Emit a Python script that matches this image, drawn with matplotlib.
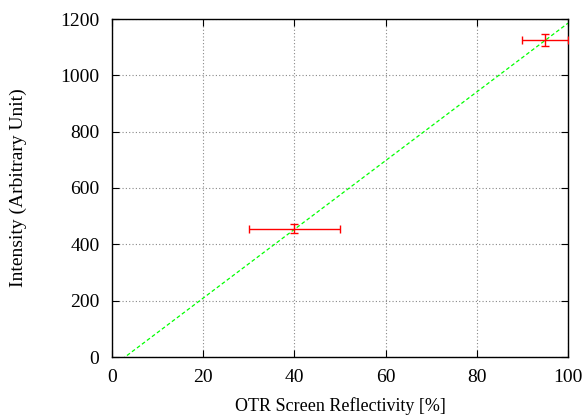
import matplotlib
matplotlib.use("Agg")
import matplotlib.pyplot as plt
import numpy as np

plt.rcParams['font.family'] = ['Liberation Serif', 'DejaVu Serif']

reflectivity = [40, 95]
intensity = [456, 1126]
refl_err = [10, 5]
int_err = [15, 21]
fit_slope = 12.2
fit_intercept = -34.8

fig = plt.figure(figsize=(5.88, 4.16), dpi=100)
ax = fig.add_axes([112/588, 1-357/416, (568-112)/588, (357-19)/416])

xf = np.linspace(0, 100, 200)
ax.plot(xf, fit_slope*xf + fit_intercept, color='#00ff00', lw=0.9, ls=(0, (3, 2)), zorder=2)

# x error bars (right-side clipped at 100)
xerr_lo = refl_err
xerr_hi = [min(e, 100 - x) for x, e in zip(reflectivity, refl_err)]
ax.errorbar(reflectivity, intensity, xerr=[xerr_lo, xerr_hi], yerr=int_err,
            fmt='none', ecolor='red', elinewidth=1.0, capsize=3, capthick=1.0, zorder=3)

ax.set_xlim(0, 100)
ax.set_ylim(0, 1200)
ax.set_xticks(np.arange(0, 101, 20))
ax.set_yticks(np.arange(0, 1201, 200))
ax.grid(True, color='#888888', ls=(0, (1, 2)), lw=0.8)
ax.tick_params(direction='in', top=True, right=True, length=5, width=0.8,
               labelsize=14, pad=9)
for s in ax.spines.values():
    s.set_linewidth(1.0)
ax.set_xlabel('OTR Screen Reflectivity [%]', fontsize=13, labelpad=8)
ax.set_ylabel('Intensity (Arbitrary Unit)', fontsize=14, labelpad=24)

fig.savefig('out.png', dpi=100)
